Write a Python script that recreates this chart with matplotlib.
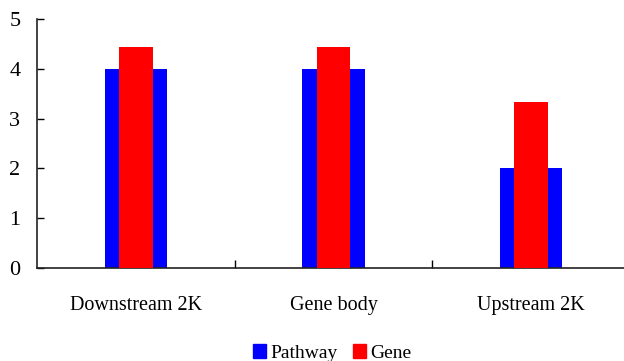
import numpy as np
import matplotlib.pyplot as plt
from matplotlib.patches import Patch

categories = ['Downstream 2K', 'Gene body', 'Upstream 2K']
pathway = [4, 4, 2]
gene = [4.44, 4.44, 3.33]

plt.rcParams['font.family'] = ['Liberation Serif', 'DejaVu Serif']

fig = plt.figure(figsize=(6.24, 3.61), dpi=100)
ax = fig.add_axes([37 / 624, 1 - 268 / 361, (630 - 37) / 624, (268 - 19) / 361])

x = np.arange(len(categories))
ax.bar(x, pathway, width=0.315, color='#0000ff', zorder=2)
ax.bar(x, gene, width=0.17, color='#ff0000', zorder=3)

ax.set_xlim(-0.5, len(categories) - 0.5)
ax.set_ylim(0, 5)
ax.set_yticks(range(6))
ax.tick_params(axis='y', direction='in', length=5, width=1, labelsize=16, pad=12)
ax.set_xticks(x)
ax.set_xticklabels(categories, fontsize=14.5)
ax.tick_params(axis='x', length=0, pad=20)
# separator ticks between groups
ax.set_xticks([0.5, 1.5], minor=True)
ax.tick_params(axis='x', which='minor', direction='in', length=6, width=1)

for s in ['top', 'right']:
    ax.spines[s].set_visible(False)
for s in ['left', 'bottom']:
    ax.spines[s].set_linewidth(1.2)
    ax.spines[s].set_color('#222222')

handles = [Patch(color='#0000ff', label='Pathway'), Patch(color='#ff0000', label='Gene')]
fig.legend(handles=handles, loc='lower center', bbox_to_anchor=(0.532, -0.05), ncol=2,
           frameon=False, fontsize=14, handlelength=0.7, handleheight=0.7,
           handletextpad=0.2, columnspacing=0.8)

fig.savefig('out.png', dpi=100)
